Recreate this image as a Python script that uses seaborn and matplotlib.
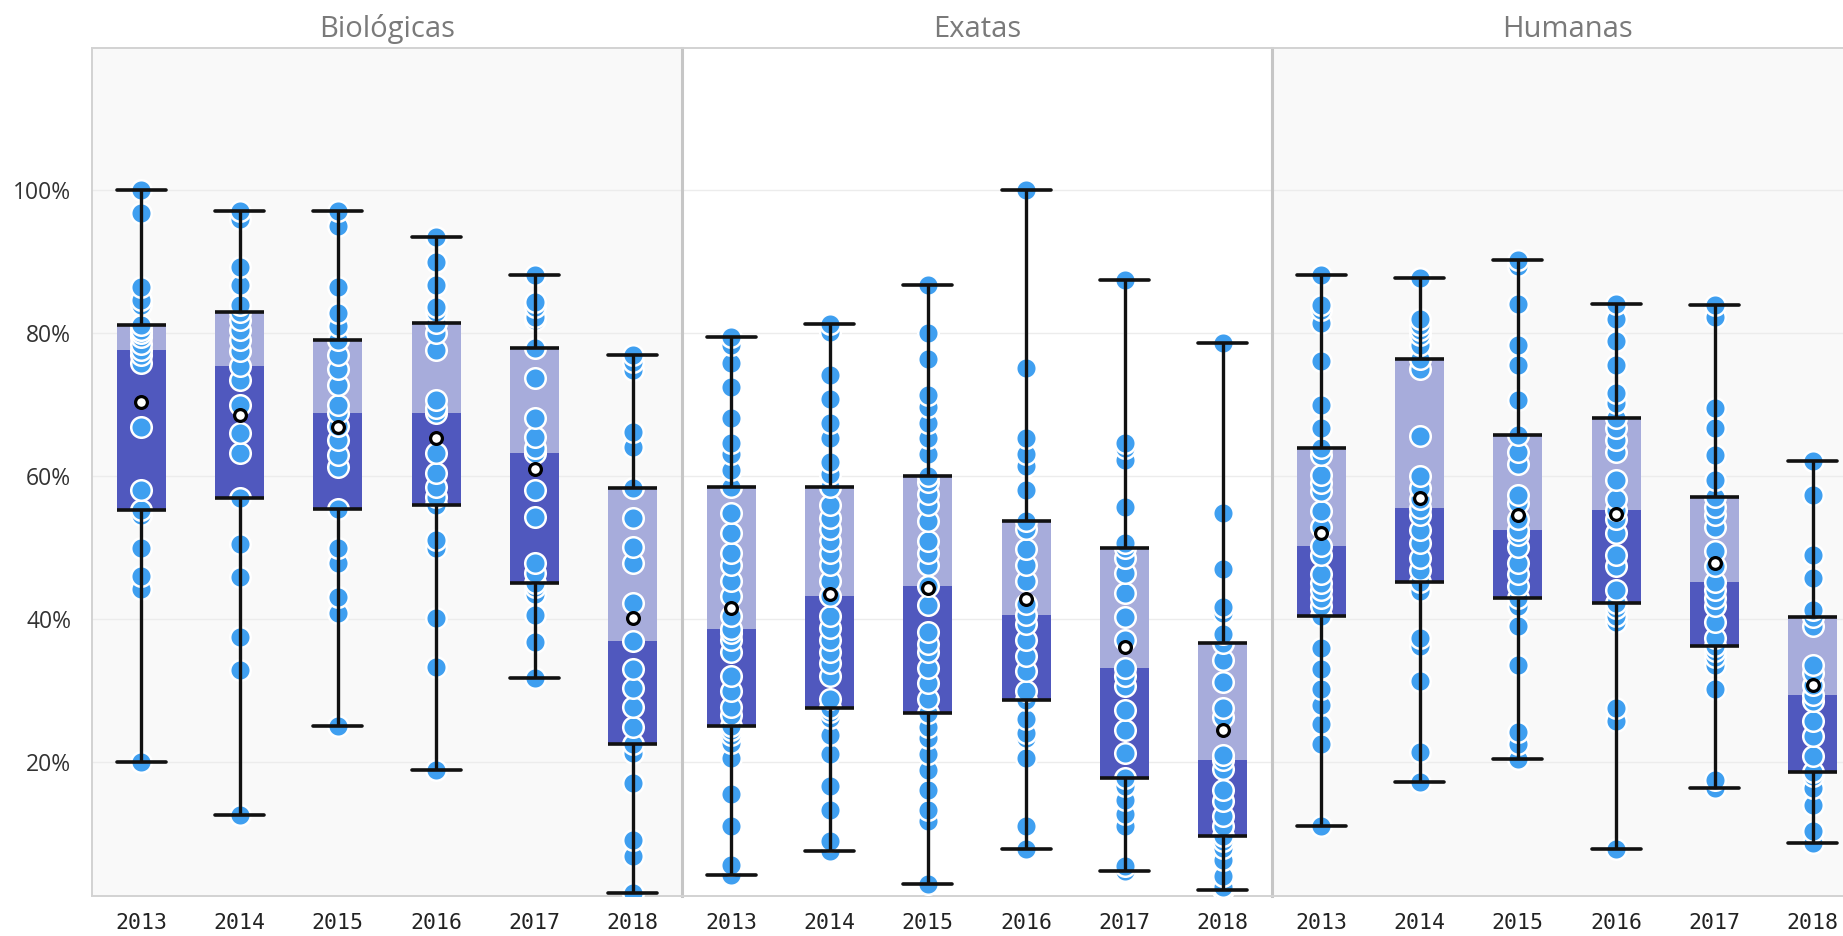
import numpy as np
import pandas as pd
import matplotlib
matplotlib.use("Agg")
import matplotlib.pyplot as plt
import seaborn as sns

# ---------------- data (percent) ----------------
years = ["2013", "2014", "2015", "2016", "2017", "2018"]
panels = ["Biológicas", "Exatas", "Humanas"]
y_ticks = [20, 40, 60, 80, 100]
y_tick_labels = ["20%", "40%", "60%", "80%", "100%"]

bio_2013 = [20.0, 44.2, 46.0, 50.0, 54.5, 55.3, 58.0, 66.9, 75.8, 76.9, 77.7, 78.5, 79.5, 80.0, 80.5, 81.1, 83.9, 84.6, 86.5, 96.8, 100.0]
bio_2014 = [12.6, 32.9, 37.5, 45.9, 50.5, 57.0, 63.2, 66.0, 70.0, 73.5, 75.4, 77.5, 79.0, 80.4, 81.8, 82.9, 84.0, 86.7, 89.3, 96.0, 97.1]
bio_2015 = [25.1, 40.8, 43.1, 47.8, 49.9, 55.4, 61.3, 63.0, 65.0, 67.0, 68.9, 70.0, 72.7, 75.0, 76.9, 79.1, 81.0, 82.8, 86.5, 95.0, 97.1]
bio_2016 = [18.9, 33.3, 40.1, 50.0, 51.0, 56.0, 57.1, 58.5, 60.4, 63.2, 68.9, 69.5, 70.6, 77.6, 80.0, 81.4, 83.0, 83.7, 86.7, 90.0, 93.4]
bio_2017 = [31.8, 36.8, 40.6, 43.5, 44.5, 45.1, 46.4, 47.8, 54.3, 58.0, 63.2, 63.9, 65.5, 68.1, 73.7, 77.9, 81.8, 82.3, 83.7, 84.4, 88.2]
bio_2018 = [1.7, 6.8, 9.1, 17.0, 21.2, 22.5, 24.9, 27.7, 30.3, 33.0, 37.0, 42.2, 47.8, 50.1, 54.1, 58.4, 64.1, 66.2, 74.8, 76.0, 77.0]

exa_2013 = [4.2, 5.6, 11.1, 15.5, 20.5, 22.7, 23.8, 24.5, 25.0, 26.6, 27.7, 29.9, 32.1, 35.4, 37.1, 38.0, 38.6,
            40.4, 43.2, 45.4, 47.6, 49.3, 52.0, 54.8, 58.5, 60.9, 63.1, 64.7, 68.1, 72.5, 75.8, 78.3, 79.5]
exa_2014 = [7.6, 8.9, 13.3, 16.6, 21.1, 23.8, 26.1, 27.0, 27.6, 28.8, 32.1, 33.8, 35.4, 37.1, 38.8, 40.4, 43.2,
            45.4, 47.6, 49.3, 50.9, 52.6, 54.2, 55.9, 58.5, 60.3, 62.0, 65.3, 67.5, 70.8, 74.1, 80.2, 81.3]
exa_2015 = [3.0, 11.7, 13.3, 16.1, 18.9, 21.1, 23.3, 24.9, 26.8, 28.8, 31.0, 33.2, 35.4, 36.5, 38.2, 42.0, 44.6,
            47.6, 49.3, 50.9, 53.7, 55.9, 57.5, 59.2, 60.0, 63.1, 65.3, 67.5, 69.7, 71.4, 76.4, 80.0, 86.7]
exa_2016 = [7.9, 11.1, 20.5, 23.3, 24.0, 26.0, 28.7, 29.9, 32.7, 34.9, 37.1, 39.3, 40.6, 42.1, 45.4, 47.6, 49.8,
            52.6, 53.7, 58.1, 61.4, 63.1, 65.3, 75.2, 100.0]
exa_2017 = [4.8, 5.4, 11.0, 12.8, 14.7, 16.6, 17.7, 21.2, 24.5, 27.3, 30.6, 32.0, 33.1, 37.1, 40.3, 43.6, 46.4,
            48.5, 50.0, 50.6, 55.7, 62.2, 64.0, 64.6, 87.5]
exa_2018 = [2.1, 2.5, 4.0, 6.3, 8.0, 9.0, 9.6, 11.0, 12.4, 14.5, 16.1, 19.0, 20.3, 21.0, 26.3, 27.5, 31.2,
            34.3, 36.7, 37.9, 40.8, 41.7, 47.0, 54.8, 78.6]

hum_2013 = [11.0, 22.5, 25.3, 28.0, 30.2, 33.0, 36.0, 40.5, 41.8, 43.0, 44.1, 45.0, 46.3, 49.0, 50.2, 52.9, 55.1,
            57.9, 59.0, 60.1, 62.9, 63.9, 66.7, 70.0, 76.1, 81.4, 83.3, 84.0, 88.2]
hum_2014 = [17.2, 21.4, 31.4, 36.3, 37.4, 44.0, 45.2, 46.8, 48.5, 50.7, 52.5, 54.6, 55.5, 56.8, 58.4, 60.0, 65.6,
            75.0, 76.4, 78.3, 79.7, 80.5, 81.1, 82.0, 87.7]
hum_2015 = [20.4, 22.5, 24.2, 33.6, 39.1, 41.8, 43.0, 44.6, 46.3, 47.9, 50.1, 51.8, 52.4, 54.0, 56.2, 57.3, 61.7,
            63.4, 65.7, 70.6, 75.6, 78.3, 84.1, 89.4, 90.3]
hum_2016 = [7.8, 25.8, 27.5, 39.6, 40.5, 41.5, 42.3, 44.1, 47.4, 49.0, 52.0, 54.0, 55.3, 56.8, 59.5, 63.4, 65.0,
            66.7, 68.1, 70.3, 71.7, 75.6, 78.9, 82.0, 84.1]
hum_2017 = [16.3, 17.5, 30.2, 33.6, 34.7, 35.5, 36.2, 37.4, 39.6, 41.8, 43.0, 44.1, 45.2, 47.4, 49.5, 52.9, 54.5,
            55.7, 57.1, 59.5, 62.9, 66.7, 69.5, 82.2, 84.0]
hum_2018 = [8.7, 10.3, 14.0, 16.4, 18.1, 18.6, 20.9, 23.6, 25.8, 28.6, 29.4, 30.8, 32.5, 33.6, 39.1, 40.3, 41.3,
            45.7, 49.0, 57.3, 62.1]

panel_data = {
    "Biológicas": [bio_2013, bio_2014, bio_2015, bio_2016, bio_2017, bio_2018],
    "Exatas": [exa_2013, exa_2014, exa_2015, exa_2016, exa_2017, exa_2018],
    "Humanas": [hum_2013, hum_2014, hum_2015, hum_2016, hum_2017, hum_2018],
}

# ---------------- style ----------------
LIGHT = "#a7acdb"
DARK = "#5058be"
POINT = "#3f9ff0"
LINE = "#111111"
SEP = "#c6c6c6"
EDGE = "#d2d2d2"
panel_bg = ["#f9f9f9", "#ffffff", "#f9f9f9"]

sns.set_theme(style="white")
plt.rcParams["font.family"] = ["Open Sans", "DejaVu Sans"]

W, H = 1843, 936
fig = plt.figure(figsize=(W / 100, H / 100), dpi=100)
fig.patch.set_facecolor("white")

ax_left_px, ax_w_px = 92, 590
ax_top_px, ax_bot_px = 48, 896

for i, name in enumerate(panels):
    ax = fig.add_axes([(ax_left_px + i * ax_w_px) / W, (H - ax_bot_px) / H,
                       ax_w_px / W, (ax_bot_px - ax_top_px) / H])
    ax.set_facecolor(panel_bg[i])
    groups = panel_data[name]
    df = pd.DataFrame({
        "ano": np.repeat(years, [len(g) for g in groups]),
        "taxa": np.concatenate([np.asarray(g, float) for g in groups]),
    })

    sns.boxplot(data=df, x="ano", y="taxa", order=years, ax=ax,
                width=0.5, whis=(0, 100), showfliers=False, color=LIGHT,
                saturation=1, linecolor=LINE, linewidth=2.4, fill=True,
                showmeans=True, capwidths=0.5,
                boxprops=dict(edgecolor="none", linewidth=0, zorder=1),
                whiskerprops=dict(color=LINE, linewidth=2.4, zorder=4),
                capprops=dict(color=LINE, linewidth=2.6, zorder=4),
                medianprops=dict(linewidth=0),
                meanprops=dict(marker="o", markerfacecolor="white",
                               markeredgecolor="black", markersize=8.5,
                               markeredgewidth=2.3, zorder=6))

    stats = df.groupby("ano")["taxa"].quantile([0.25, 0.5, 0.75]).unstack().reindex(years)
    pos = np.arange(len(years))
    ax.bar(pos, stats[0.5] - stats[0.25], bottom=stats[0.25], width=0.5,
           color=DARK, linewidth=0, zorder=1.5)

    sns.stripplot(data=df, x="ano", y="taxa", order=years, ax=ax, jitter=False,
                  color=POINT, size=14.8, linewidth=1.8, edgecolor="white", zorder=3)

    ax.hlines(stats[0.25], pos - 0.25, pos + 0.25, color=LINE, linewidth=2.6, zorder=4)
    ax.hlines(stats[0.75], pos - 0.25, pos + 0.25, color=LINE, linewidth=2.6, zorder=4)

    ax.set_xlim(-0.5, len(years) - 0.5)
    ax.set_ylim(1.26, 119.9)
    ax.set_yticks(y_ticks)
    ax.set_xlabel("")
    ax.set_ylabel("")
    ax.yaxis.grid(True, color="#ececec", linewidth=1)
    ax.xaxis.grid(False)
    ax.set_axisbelow(True)

    ax.tick_params(axis="x", length=0, pad=12, labelsize=15.5, labelcolor="#222222")
    for lab in ax.get_xticklabels():
        lab.set_fontfamily("DejaVu Sans Mono")
    if i == 0:
        ax.set_yticklabels(y_tick_labels)
        ax.tick_params(axis="y", length=0, pad=15, labelsize=16.5, labelcolor="#333333")
    else:
        ax.tick_params(axis="y", length=0, labelleft=False)

    for side in ["top", "bottom"]:
        ax.spines[side].set_color(EDGE)
        ax.spines[side].set_linewidth(1.4)
    ax.spines["right"].set_visible(False)
    if i == 0:
        ax.spines["left"].set_color(EDGE)
        ax.spines["left"].set_linewidth(1.4)
    else:
        ax.spines["left"].set_color(SEP)
        ax.spines["left"].set_linewidth(2.2)

    ax.set_title(name, fontsize=21, color="#7a7a7a", pad=8)

fig.savefig("out.png", dpi=100, facecolor="white")
